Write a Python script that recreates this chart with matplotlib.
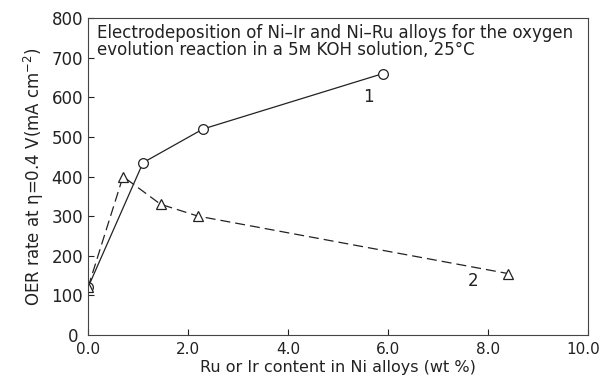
import matplotlib
matplotlib.use("Agg")
import matplotlib.pyplot as plt
import matplotlib.transforms as mtransforms

plt.rcParams['font.family'] = ['DejaVu Sans']

# Series 1: circles (solid)
x1 = [0.0, 1.1, 2.3, 5.9]
y1 = [120, 435, 520, 660]
# Series 2: triangles (dashed)
x2 = [0.0, 0.7, 1.45, 2.2, 8.4]
y2 = [120, 400, 330, 300, 155]

xticks = [0, 2, 4, 6, 8, 10]
xticklabels = ["0.0", "2.0", "4.0", "6.0", "8.0", "10.0"]
yticks = [100, 200, 300, 400, 500, 600, 700, 800]

fig = plt.figure(figsize=(6.03, 3.78), dpi=100)
ax = fig.add_axes([0.146, 0.114, 0.829, 0.838])

ax.plot(x1, y1, '-', color='#222222', lw=0.9, marker='o', ms=7,
        mfc='white', mec='#222222', mew=0.9)
ax.plot(x2, y2, color='#222222', lw=0.9, dashes=(8, 4), marker='^', ms=7,
        mfc='white', mec='#222222', mew=0.9)

ax.set_xlim(0, 10)
ax.set_ylim(0, 800)
ax.set_xticks(xticks)
ax.set_xticklabels(xticklabels)
ax.set_yticks(yticks)
ax.tick_params(direction='in', length=4, width=0.8, colors='#222222')
ax.tick_params(axis='y', labelsize=12)
ax.tick_params(axis='x', labelsize=11, pad=5)
xtl = ax.get_xticklabels()
xtl[-1].set_horizontalalignment('right')
offset = mtransforms.ScaledTranslation(12 / 100, 0, fig.dpi_scale_trans)
xtl[-1].set_transform(xtl[-1].get_transform() + offset)
for s in ax.spines.values():
    s.set_linewidth(0.8)
    s.set_color('#444444')

ax.text(-0.3, -5, "0", fontsize=12, ha='center', va='center', color='#222222')

ax.text(5.6, 600, "1", fontsize=12, ha='center', va='center', color='#222222')
ax.text(7.7, 135, "2", fontsize=12, ha='center', va='center', color='#222222')

ax.text(0.018, 0.98,
        "Electrodeposition of Ni\u2013Ir and Ni\u2013Ru alloys for the oxygen\n"
        "evolution reaction in a 5\u1d0d KOH solution, 25\u00b0C",
        transform=ax.transAxes, fontsize=12, ha='left', va='top',
        color='#222222', linespacing=0.88)

ax.set_xlabel("Ru or Ir content in Ni alloys (wt %)", fontsize=11.5, color='#222222', labelpad=2)
ax.set_ylabel("OER rate at \u03b7=0.4 V(mA cm$^{-2}$)", fontsize=12, color='#222222', labelpad=4)

fig.savefig("out.png", dpi=100)
